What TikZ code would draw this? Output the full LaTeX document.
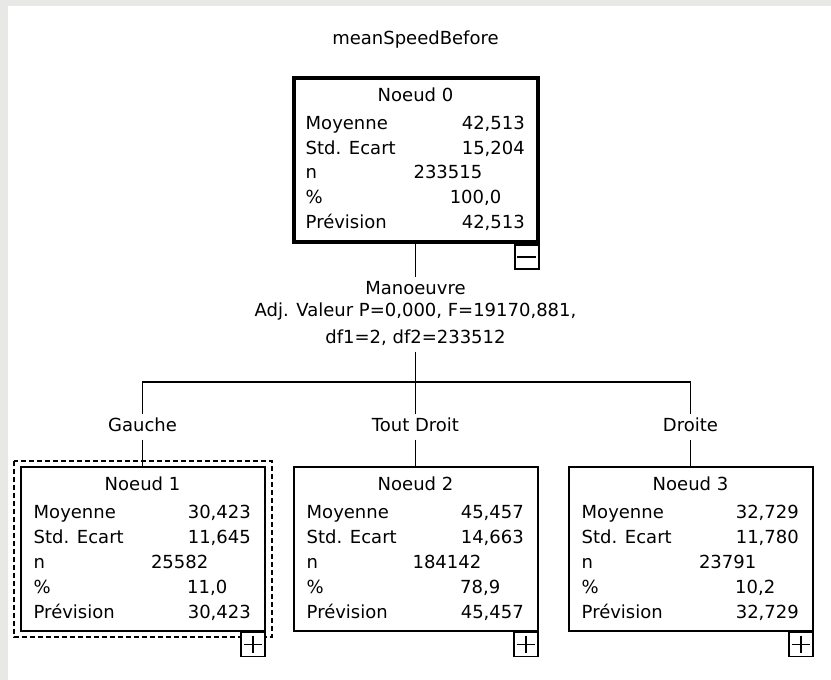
\documentclass[tikz,border=0pt]{standalone}
\usepackage{fontspec}
\setmainfont{DejaVu Sans}
\usepackage{tikz}
\usetikzlibrary{calc}
\definecolor{bggrey}{RGB}{232,232,230}
\tikzset{
	txt/.style={inner sep=0pt, font=\fontsize{18}{20}\selectfont, text height=13pt, text depth=4pt},
	blabel/.style={txt, anchor=base, outer sep=4.5pt},
	treebox/.style={draw, line width=2pt, minimum width=244pt, minimum height=164pt, inner sep=0pt},
	rootbox/.style={treebox, line width=4pt},
	btn/.style={draw, fill=white, line width=1.8pt, minimum size=24pt, inner sep=0pt, anchor=north east},
	link/.style={line width=1.8pt},
	dashbox/.style={line width=2pt, dash pattern=on 5pt off 3pt},
}
\newcommand{\statlines}[7]{%
	\node[txt, anchor=base] (#1-t) at ($(#1.north)+(0,25)$) {#2};
	\node[txt, anchor=base west] (#1-l1) at ($(#1.north west)+(14,53)$) {Moyenne};
	\node[txt, anchor=base west] (#1-l2) at ($(#1.north west)+(14,78)$) {Std. Ecart};
	\node[txt, anchor=base west] (#1-l3) at ($(#1.north west)+(14,102.5)$) {n};
	\node[txt, anchor=base west] (#1-l4) at ($(#1.north west)+(14,127.5)$) {\%};
	\node[txt, anchor=base west] (#1-l5) at ($(#1.north west)+(14,152.5)$) {Prévision};
	\node[txt, anchor=base east] (#1-v1) at ($(#1.north east)+(-14.5,53)$) {#3};
	\node[txt, anchor=base east] (#1-v2) at ($(#1.north east)+(-14.5,78)$) {#4};
	\node[txt, anchor=base east] (#1-v3) at ($(#1.north east)+(-57,102.5)$) {#5};
	\node[txt, anchor=base east] (#1-v4) at ($(#1.north east)+(-38,127.5)$) {#6};
	\node[txt, anchor=base east] (#1-v5) at ($(#1.north east)+(-14.5,152.5)$) {#7};
}
\begin{document}
\begin{tikzpicture}[x=1pt, y=-1pt]
\useasboundingbox (0,0) rectangle (831,680);
\fill[bggrey] (0,0) rectangle (831,680);
\fill[white] (8,6) rectangle (831,680);

\node[txt, anchor=base] (title) at (415.5,45) {meanSpeedBefore};

\node[rootbox] (n0) at (415.5,160) {};
\statlines{n0}{Noeud 0}{42,513}{15,204}{233515}{100,0}{42,513}

\node[blabel] (split1) at (415.5,294) {Manoeuvre};
\node[txt, anchor=base] (split2) at (415.5,316.5) {Adj. Valeur P=0,000, F=19170,881,};
\node[blabel] (split3) at (415.5,343) {df1=2, df2=233512};

\node[treebox] (n1) at (142.5,548.5) {};
\node[treebox] (n2) at (415.5,548.5) {};
\node[treebox] (n3) at (690.5,548.5) {};
\statlines{n1}{Noeud 1}{30,423}{11,645}{25582}{11,0}{30,423}
\statlines{n2}{Noeud 2}{45,457}{14,663}{184142}{78,9}{45,457}
\statlines{n3}{Noeud 3}{32,729}{11,780}{23791}{10,2}{32,729}

\node[blabel] (lgauche) at (142.5,431) {Gauche};
\node[blabel] (ltout) at (415.5,431) {Tout Droit};
\node[blabel] (ldroite) at (690.5,431) {Droite};

\coordinate (fork) at (415.5,382);
\draw[link] (n0.south) -- (split1.north);
\draw[link] (split3.south) -- (fork);
\draw[link] (lgauche.north) |- (fork) -| (ldroite.north);
\draw[link] (fork) -- (ltout.north);
\draw[link] (lgauche.south) -- (n1.north);
\draw[link] (ltout.south) -- (n2.north);
\draw[link] (ldroite.south) -- (n3.north);

\draw[dashbox] ($(n1.north west)+(-6,-5)$) rectangle ($(n1.south east)+(6,5)$);

\node[btn] (b0) at (n0.south east) {};
\draw[link] ($(b0.west)+(3.5,0)$) -- ($(b0.east)+(-3.5,0)$);
\foreach \k in {1,2,3} {
	\node[btn] (b\k) at (n\k.south east) {};
	\draw[link] ($(b\k.west)+(4,0)$) -- ($(b\k.east)+(-4,0)$);
	\draw[link] ($(b\k.north)+(0,4)$) -- ($(b\k.south)+(0,-4)$);
}
\end{tikzpicture}
\end{document}
